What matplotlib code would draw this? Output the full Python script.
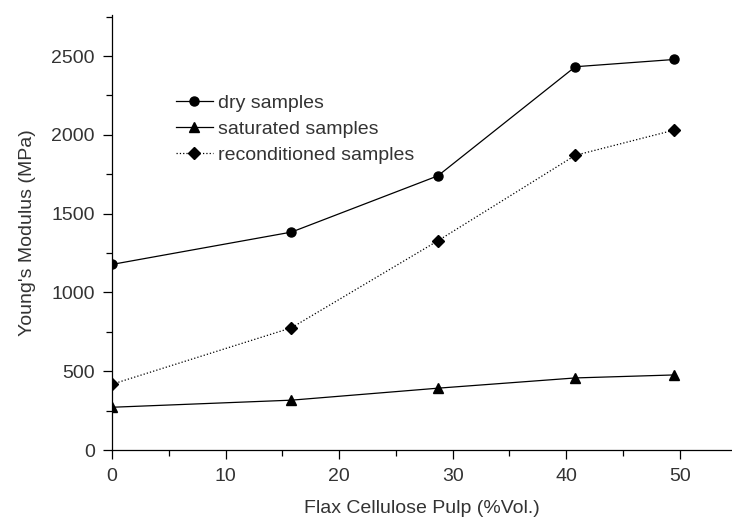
import matplotlib
matplotlib.use('Agg')
import matplotlib.pyplot as plt
from matplotlib.ticker import MultipleLocator

plt.rcParams['font.family'] = ['Liberation Sans', 'DejaVu Sans']

# Flax cellulose pulp content (%Vol.)
pulp = [0, 15.8, 28.7, 40.8, 49.5]

# Young's modulus (MPa)
dry = [1178, 1383, 1740, 2432, 2478]
saturated = [272, 317, 393, 458, 477]
reconditioned = [418, 776, 1328, 1870, 2030]

TXT = '#333333'

fig = plt.figure(figsize=(7.32, 5.18), dpi=100)
ax = fig.add_axes([0.153, 0.131, 0.847, 0.84])

ax.plot(pulp, dry, '-o', color='black', lw=0.9, ms=6.5,
        label='dry samples')
ax.plot(pulp, saturated, '-^', color='black', lw=0.9, ms=7.5,
        label='saturated samples')
ax.plot(pulp, reconditioned, ':D', color='black', lw=0.9, ms=6,
        label='reconditioned samples')

ax.set_xlim(0, 54.6)
ax.set_ylim(0, 2760)
ax.xaxis.set_major_locator(MultipleLocator(10))
ax.xaxis.set_minor_locator(MultipleLocator(5))
ax.yaxis.set_major_locator(MultipleLocator(500))
ax.yaxis.set_minor_locator(MultipleLocator(250))

for side in ('top', 'right'):
    ax.spines[side].set_visible(False)
for side in ('left', 'bottom'):
    ax.spines[side].set_linewidth(0.9)

ax.tick_params(which='major', direction='out', length=6.5, width=0.9,
               labelsize=14, labelcolor=TXT, pad=6)
ax.tick_params(which='minor', direction='out', length=4, width=0.9)

ax.set_xlabel('Flax Cellulose Pulp (%Vol.)', fontsize=14, color=TXT,
              labelpad=11)
ax.set_ylabel("Young's Modulus (MPa)", fontsize=14, color=TXT,
              labelpad=11)

leg = ax.legend(loc='upper left', bbox_to_anchor=(0.09, 0.835),
                frameon=False, fontsize=14, handlelength=1.9,
                handletextpad=0.3, labelspacing=0.42, borderaxespad=0)
for t in leg.get_texts():
    t.set_color(TXT)

fig.savefig('out.png', dpi=100)
